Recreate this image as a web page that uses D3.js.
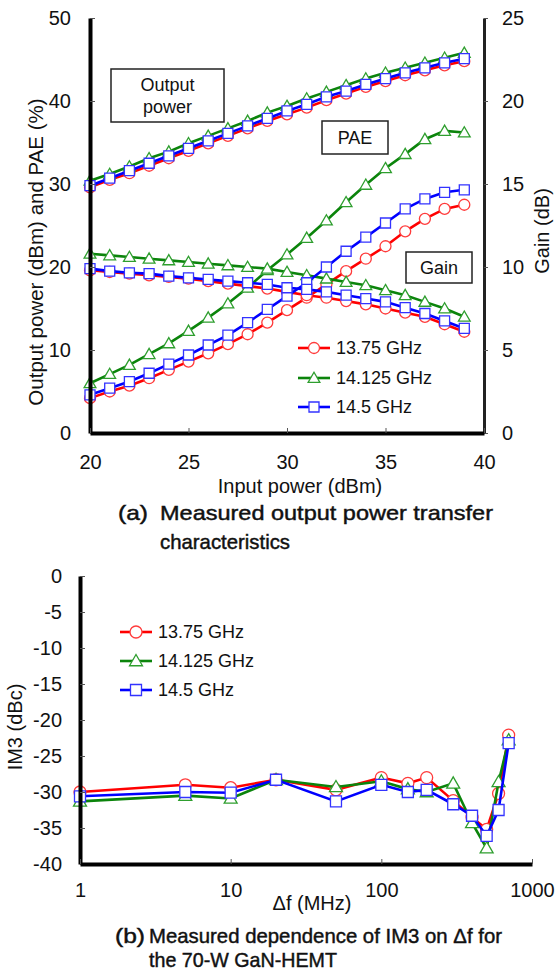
<!DOCTYPE html>
<html>
<head>
<meta charset="utf-8">
<script src="https://cdn.jsdelivr.net/npm/d3@7"></script>
<style>
  body { margin: 0; background: #fff; }
  svg { display: block; font-family: "Liberation Sans", Arial, sans-serif; }
</style>
</head>
<body>
<svg id="chart"></svg>
<script>
// (a) output power / PAE / gain vs input power
const inputPower = [20, 21, 22, 23, 24, 25, 26, 27, 28, 29, 30, 31, 32, 33, 34, 35, 36, 37, 38, 39];
const outRed   = [29.6, 30.5, 31.3, 32.2, 33.1, 34.0, 34.9, 35.8, 36.7, 37.6, 38.4, 39.2, 40.1, 40.9, 41.7, 42.4, 43.1, 43.7, 44.3, 44.8];
const outGreen = [30.4, 31.2, 32.1, 33.1, 33.9, 34.9, 35.8, 36.7, 37.6, 38.6, 39.4, 40.3, 41.1, 41.9, 42.7, 43.4, 44.0, 44.6, 45.2, 45.8];
const outBlue  = [29.8, 30.7, 31.6, 32.5, 33.4, 34.3, 35.2, 36.1, 37.0, 37.9, 38.8, 39.6, 40.5, 41.2, 42.0, 42.7, 43.4, 44.0, 44.6, 45.1];
const paeRed   = [4.2, 5.0, 5.7, 6.6, 7.6, 8.6, 9.6, 10.7, 11.9, 13.3, 14.8, 16.3, 17.9, 19.5, 21.0, 22.5, 24.3, 25.8, 27.0, 27.5];
const paeGreen = [6.0, 7.1, 8.2, 9.5, 10.8, 12.3, 13.9, 15.6, 17.5, 19.6, 21.5, 23.5, 25.6, 27.8, 29.9, 31.9, 33.6, 35.4, 36.4, 36.2];
const paeBlue  = [4.6, 5.4, 6.2, 7.2, 8.3, 9.4, 10.6, 11.8, 13.3, 14.9, 16.5, 18.1, 20.0, 21.9, 23.6, 25.3, 27.0, 28.2, 29.0, 29.3];
const gainRed   = [9.8, 9.7, 9.6, 9.5, 9.4, 9.3, 9.15, 9.0, 8.85, 8.7, 8.5, 8.3, 8.15, 7.95, 7.75, 7.5, 7.25, 7.0, 6.55, 6.1];
const gainGreen = [10.8, 10.7, 10.6, 10.5, 10.4, 10.3, 10.2, 10.1, 10.0, 9.9, 9.7, 9.5, 9.3, 9.1, 8.9, 8.6, 8.3, 7.9, 7.5, 7.0];
const gainBlue  = [9.9, 9.75, 9.65, 9.6, 9.45, 9.35, 9.25, 9.15, 9.05, 8.95, 8.75, 8.65, 8.5, 8.3, 8.1, 7.9, 7.55, 7.2, 6.75, 6.3];

// (b) IM3 vs tone spacing
const dfMHz    = [1, 5, 10, 20, 50, 100, 150, 200, 300, 400, 500, 600, 700];
const im3Red   = [-30.0, -29.0, -29.4, -28.3, -29.7, -28.0, -28.8, -28.0, -31.2, -33.5, -35.2, -30.2, -22.1];
const im3Green = [-31.3, -30.5, -30.9, -28.3, -29.3, -28.5, -29.6, -30.0, -28.8, -34.3, -37.8, -28.6, -22.8];
const im3Blue  = [-30.6, -30.0, -30.1, -28.3, -31.3, -29.0, -30.0, -29.7, -31.7, -33.3, -36.1, -32.5, -23.2];

const freqLabels = ["13.75 GHz", "14.125 GHz", "14.5 GHz"];
const ticksA_left = [0, 10, 20, 30, 40, 50];
const ticksA_right = [0, 5, 10, 15, 20, 25];
const ticksA_x = [20, 25, 30, 35, 40];
const ticksB_y = [0, -5, -10, -15, -20, -25, -30, -35, -40];
const ticksB_x = [1, 10, 100, 1000];

const width = 556, height = 972;
const svg = d3.select("#chart").attr("width", width).attr("height", height);

const styles = [
  { line: "#ff0000", mark: "#ff3b3b", sym: d3.symbolCircle },
  { line: "#0b840b", mark: "#2e9e2e", sym: d3.symbolTriangle },
  { line: "#0000ff", mark: "#3333ff", sym: d3.symbolSquare }
];

function drawSeries(g, xs, ys, x, y, st, lw, size) {
  const pts = xs.map((v, i) => [x(v), y(ys[i])]);
  g.append("path")
    .attr("d", d3.line()(pts))
    .attr("fill", "none")
    .attr("stroke", st.line)
    .attr("stroke-width", lw);
  const symSize = st.sym === d3.symbolSquare ? size * size
    : st.sym === d3.symbolCircle ? Math.PI * (size / 2 + 0.5) * (size / 2 + 0.5)
    : size * size * 0.6;
  g.selectAll(null).data(pts).join("path")
    .attr("transform", d => `translate(${d[0]},${d[1] + (st.sym === d3.symbolTriangle ? 1 : 0)})`)
    .attr("d", d3.symbol(st.sym, symSize))
    .attr("fill", "#fff")
    .attr("stroke", st.mark)
    .attr("stroke-width", 1.3);
}

function styleAxis(g, w) {
  g.select(".domain").attr("stroke", "#000").attr("stroke-width", w);
  g.selectAll(".tick line").attr("stroke", "#555").attr("stroke-width", 1);
  g.selectAll(".tick text").attr("font-size", 20).attr("fill", "#111")
    .attr("font-family", "Liberation Sans, Arial, sans-serif");
}

function legend(g, x0, ys, lw, size) {
  freqLabels.forEach((lab, i) => {
    const st = styles[i];
    g.append("line").attr("x1", x0).attr("x2", x0 + 32).attr("y1", ys[i]).attr("y2", ys[i])
      .attr("stroke", st.line).attr("stroke-width", lw);
    drawSeries(g, [0], [0], () => x0 + 16, () => ys[i], st, 0, size);
    g.append("text").attr("x", x0 + 38).attr("y", ys[i]).attr("dy", "0.36em")
      .attr("font-size", 18).attr("fill", "#111").text(lab);
  });
}

// ---------- chart (a) ----------
const xA = d3.scaleLinear([20, 40], [90, 484]);
const yL = d3.scaleLinear([0, 50], [433, 18]);
const yR = d3.scaleLinear([0, 25], [433, 18]);

const gA = svg.append("g");
const seriesA = [
  [outRed, paeRed, gainRed],
  [outGreen, paeGreen, gainGreen],
  [outBlue, paeBlue, gainBlue]
];
seriesA.forEach((s, i) => {
  drawSeries(gA, inputPower, s[0], xA, yL, styles[i], 2.6, 10);
  drawSeries(gA, inputPower, s[1], xA, yL, styles[i], 2.6, 10);
  drawSeries(gA, inputPower, s[2], xA, yR, styles[i], 2.6, 10);
});

const axL = gA.append("g").attr("transform", "translate(90,0)")
  .call(d3.axisLeft(yL).tickValues(ticksA_left).tickSizeInner(-5).tickSizeOuter(0).tickPadding(19).tickFormat(d => String(d)));
styleAxis(axL, 4);
const axR = gA.append("g").attr("transform", "translate(484,0)")
  .call(d3.axisRight(yR).tickValues(ticksA_right).tickSizeInner(4).tickSizeOuter(0).tickPadding(14).tickFormat(d => String(d)));
styleAxis(axR, 3);
axR.select(".domain").attr("stroke", "#222");
const axB = gA.append("g").attr("transform", "translate(0,433)")
  .call(d3.axisBottom(xA).tickValues(ticksA_x).tickSizeInner(-5).tickSizeOuter(0).tickPadding(22).tickFormat(d => String(d)));
styleAxis(axB, 4);

gA.append("text").attr("transform", "translate(43,252) rotate(-90)").attr("text-anchor", "middle")
  .attr("font-size", 20.5).attr("fill", "#111").text("Output power (dBm) and PAE (%)");
gA.append("text").attr("transform", "translate(549,231) rotate(-90)").attr("text-anchor", "middle")
  .attr("font-size", 20).attr("fill", "#111").text("Gain (dB)");
gA.append("text").attr("x", 300).attr("y", 493).attr("text-anchor", "middle")
  .attr("font-size", 20).attr("fill", "#111").text("Input power (dBm)");

// annotation boxes
const boxes = [
  { x: 111, y: 69, w: 113, h: 53, lines: ["Output", "power"] },
  { x: 322, y: 121, w: 66, h: 33, lines: ["PAE"] },
  { x: 406, y: 252, w: 66, h: 31, lines: ["Gain"] }
];
boxes.forEach(b => {
  gA.append("rect").attr("x", b.x).attr("y", b.y).attr("width", b.w).attr("height", b.h)
    .attr("fill", "#fff").attr("stroke", "#222").attr("stroke-width", 1.5);
  b.lines.forEach((t, k) => {
    gA.append("text").attr("x", b.x + b.w / 2)
      .attr("y", b.y + b.h / 2 + (k - (b.lines.length - 1) / 2) * 22).attr("dy", "0.36em")
      .attr("text-anchor", "middle").attr("font-size", 18).attr("fill", "#111").text(t);
  });
});

legend(gA, 298, [348, 378, 407], 2.6, 10);

// captions: narrow, medium weight
const capFont = "Liberation Sans Narrow, Liberation Sans, Arial, sans-serif";
function caption(x, y, txt, len) {
  const t = svg.append("text").attr("x", x).attr("y", y).attr("font-size", 21)
    .attr("font-family", capFont).attr("fill", "#111")
    .attr("stroke", "#111").attr("stroke-width", 0.45).text(txt);
  if (len) t.attr("textLength", len).attr("lengthAdjust", "spacingAndGlyphs");
}
caption(118, 520, "(a)", 30);
caption(160, 520, "Measured output power transfer", 333);
caption(160, 549, "characteristics", 130);

// ---------- chart (b) ----------
const xB = d3.scaleLog([1, 1000], [80, 532]);
const yB = d3.scaleLinear([-40, 0], [864, 576]);
const gB = svg.append("g");

[im3Red, im3Green, im3Blue].forEach((s, i) => {
  drawSeries(gB, dfMHz, s, xB, yB, styles[i], 2.6, 11);
});

const axBL = gB.append("g").attr("transform", "translate(80,0)")
  .call(d3.axisLeft(yB).tickValues(ticksB_y).tickSizeInner(-5).tickSizeOuter(0).tickPadding(18).tickFormat(d => String(d)));
styleAxis(axBL, 4);
const axBB = gB.append("g").attr("transform", "translate(0,864)")
  .call(d3.axisBottom(xB).tickValues(ticksB_x).tickSizeInner(-5).tickSizeOuter(0).tickPadding(19).tickFormat(d => String(d)));
styleAxis(axBB, 4);

gB.append("text").attr("transform", "translate(22,727) rotate(-90)").attr("text-anchor", "middle")
  .attr("font-size", 20).attr("fill", "#111").text("IM3 (dBc)");
gB.append("text").attr("x", 312).attr("y", 910).attr("text-anchor", "middle")
  .attr("font-size", 20).attr("fill", "#111").text("\u0394f (MHz)");

legend(gB, 120, [632, 661, 690], 2.6, 11);

caption(115, 943, "(b)", 30);
caption(149, 943, "Measured dependence of IM3 on \u0394f for", 353);
caption(149, 967, "the 70-W GaN-HEMT", 188);
</script>
</body>
</html>
